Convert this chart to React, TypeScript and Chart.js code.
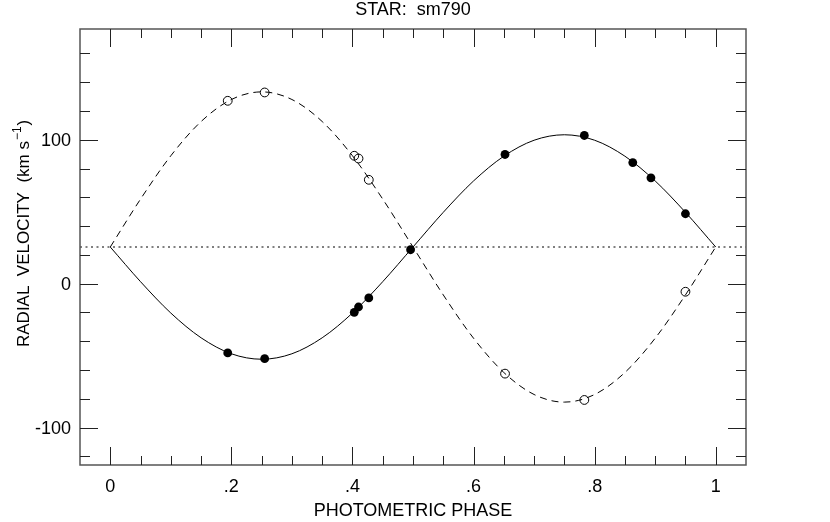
import { useEffect, useRef } from 'react';
import { Chart, registerables } from 'chart.js';
import type { ChartConfiguration, Plugin } from 'chart.js';

Chart.register(...registerables);

// fitted orbit curves, every 0.05 in phase
const curvePhase = [0, 0.05, 0.1, 0.15, 0.2, 0.25, 0.3, 0.35, 0.4, 0.45, 0.5, 0.55, 0.6, 0.65, 0.7, 0.75, 0.8, 0.85, 0.9, 0.95, 1];
const primaryCurve = [25.5, 1.4, -20.4, -37.6, -48.7, -52.5, -48.7, -37.6, -20.4, 1.4, 25.5, 49.6, 71.4, 88.6, 99.7, 103.5, 99.7, 88.6, 71.4, 49.6, 25.5];
const secondaryCurve = [25.5, 58.8, 88.9, 112.7, 128.0, 133.3, 128.0, 112.7, 88.9, 58.8, 25.5, -7.8, -37.9, -61.7, -77.0, -82.3, -77.0, -61.7, -37.9, -7.8, 25.5];
const gamma = 25.5;

// measured velocities
const primaryPhase = [0.194, 0.255, 0.403, 0.41, 0.427, 0.496, 0.652, 0.783, 0.863, 0.893, 0.95];
const primaryVel = [-48.1, -52.1, -19.9, -16.2, -9.9, 23.6, 89.8, 103.0, 84.2, 73.6, 48.6];
const secondaryPhase = [0.194, 0.255, 0.403, 0.41, 0.427, 0.652, 0.783, 0.95];
const secondaryVel = [127.1, 132.9, 88.9, 87.0, 72.2, -62.5, -80.8, -5.6];

const xMajorTicks = [0, 0.2, 0.4, 0.6, 0.8, 1];
const xTickLabels = ['0', '.2', '.4', '.6', '.8', '1'];
const xMinorTicks = [0.05, 0.1, 0.15, 0.25, 0.3, 0.35, 0.45, 0.5, 0.55, 0.65, 0.7, 0.75, 0.85, 0.9, 0.95];
const yMajorTicks = [-100, 0, 100];
const yTickLabels = ['-100', '0', '100'];
const yMinorTicks = [-120, -80, -60, -40, -20, 20, 40, 60, 80, 120, 140, 160];

const FONT = '"Liberation Sans", Arial, Helvetica, sans-serif';

const framePlugin: Plugin<'scatter'> = {
  id: 'frame',
  afterDraw(chart) {
    const { ctx, chartArea: a } = chart;
    const xs = chart.scales.x;
    const ys = chart.scales.y;
    const seg = (x1: number, y1: number, x2: number, y2: number) => {
      ctx.beginPath();
      ctx.moveTo(x1, y1);
      ctx.lineTo(x2, y2);
      ctx.stroke();
    };
    ctx.save();
    ctx.strokeStyle = '#555';
    ctx.lineWidth = 1.5;
    ctx.strokeRect(a.left, a.top, a.right - a.left, a.bottom - a.top);

    ctx.strokeStyle = '#222';
    ctx.lineWidth = 1;
    const xTick = (v: number, len: number) => {
      const px = Math.round(xs.getPixelForValue(v)) + 0.5;
      seg(px, a.bottom, px, a.bottom - len);
      seg(px, a.top, px, a.top + len);
    };
    const yTick = (v: number, len: number) => {
      const py = Math.round(ys.getPixelForValue(v)) + 0.5;
      seg(a.left, py, a.left + len, py);
      seg(a.right, py, a.right - len, py);
    };
    xMajorTicks.forEach((v) => xTick(v, 18));
    xMinorTicks.forEach((v) => xTick(v, 9));
    yMajorTicks.forEach((v) => yTick(v, 18));
    yMinorTicks.forEach((v) => yTick(v, 10));

    ctx.fillStyle = '#000';
    ctx.font = `18px ${FONT}`;
    ctx.textBaseline = 'alphabetic';
    ctx.textAlign = 'center';
    xMajorTicks.forEach((v, i) => {
      ctx.fillText(xTickLabels[i], xs.getPixelForValue(v), 492);
    });
    ctx.textAlign = 'right';
    yMajorTicks.forEach((v, i) => {
      ctx.fillText(yTickLabels[i], 71, ys.getPixelForValue(v) + 6.5);
    });

    ctx.textAlign = 'center';
    const cx = (a.left + a.right) / 2;
    ctx.fillText('STAR:  sm790', cx, 15);
    ctx.fillText('PHOTOMETRIC PHASE', cx, 516);

    // y label with superscript
    ctx.save();
    ctx.translate(28.5, 347);
    ctx.rotate(-Math.PI / 2);
    ctx.textAlign = 'left';
    ctx.font = `17px ${FONT}`;
    const main = 'RADIAL  VELOCITY  (km s';
    ctx.fillText(main, 0, 0);
    let off = ctx.measureText(main).width + 1;
    ctx.font = `12px ${FONT}`;
    ctx.fillText('\u22121', off, -8);
    off += ctx.measureText('\u22121').width + 1;
    ctx.font = `17px ${FONT}`;
    ctx.fillText(')', off, 0);
    ctx.restore();

    ctx.restore();
  },
};

const App = () => {
  const canvasRef = useRef<HTMLCanvasElement>(null);

  useEffect(() => {
    if (!canvasRef.current) {
      return;
    }

    const config: ChartConfiguration<'scatter'> = {
      type: 'scatter',
      data: {
        datasets: [
          {
            label: 'primary obs',
            data: primaryPhase.map((p, i) => ({ x: p, y: primaryVel[i] })),
            pointRadius: 4.4,
            pointBackgroundColor: '#000',
            pointBorderColor: '#000',
            pointBorderWidth: 0,
          },
          {
            label: 'secondary obs',
            data: secondaryPhase.map((p, i) => ({ x: p, y: secondaryVel[i] })),
            pointRadius: 4.4,
            pointBackgroundColor: 'rgba(0,0,0,0)',
            pointBorderColor: '#000',
            pointBorderWidth: 1,
          },
          {
            label: 'primary fit',
            data: curvePhase.map((p, i) => ({ x: p, y: primaryCurve[i] })),
            showLine: true,
            borderColor: '#000',
            borderWidth: 1,
            pointRadius: 0,
            cubicInterpolationMode: 'monotone',
          },
          {
            label: 'secondary fit',
            data: curvePhase.map((p, i) => ({ x: p, y: secondaryCurve[i] })),
            showLine: true,
            borderColor: '#000',
            borderWidth: 1,
            borderDash: [7, 5],
            pointRadius: 0,
            cubicInterpolationMode: 'monotone',
          },
          {
            label: 'gamma',
            data: [
              { x: -0.05, y: gamma },
              { x: 1.05, y: gamma },
            ],
            showLine: true,
            borderColor: '#000',
            borderWidth: 1,
            borderDash: [2, 3.5],
            pointRadius: 0,
          },
        ],
      },
      options: {
        animation: false,
        responsive: false,
        layout: { padding: { left: 0, right: 84, top: 29, bottom: 0 } },
        plugins: {
          legend: { display: false },
          tooltip: { enabled: false },
        },
        scales: {
          x: {
            type: 'linear',
            min: -0.05,
            max: 1.05,
            grid: { display: false },
            border: { display: false },
            ticks: { display: false },
            afterFit: (s) => {
              s.height = 57;
            },
          },
          y: {
            type: 'linear',
            min: -126,
            max: 177,
            grid: { display: false },
            border: { display: false },
            ticks: { display: false },
            afterFit: (s) => {
              s.width = 80;
            },
          },
        },
      },
      plugins: [framePlugin],
    };

    const chart = new Chart(canvasRef.current, config);

    return () => {
      chart.destroy();
    };
  }, []);

  return (
    <div style={{ position: 'fixed', left: 0, top: 0, width: 830, height: 522, background: '#fff' }}>
      <canvas ref={canvasRef} width={830} height={522} />
    </div>
  );
};

export default App;
